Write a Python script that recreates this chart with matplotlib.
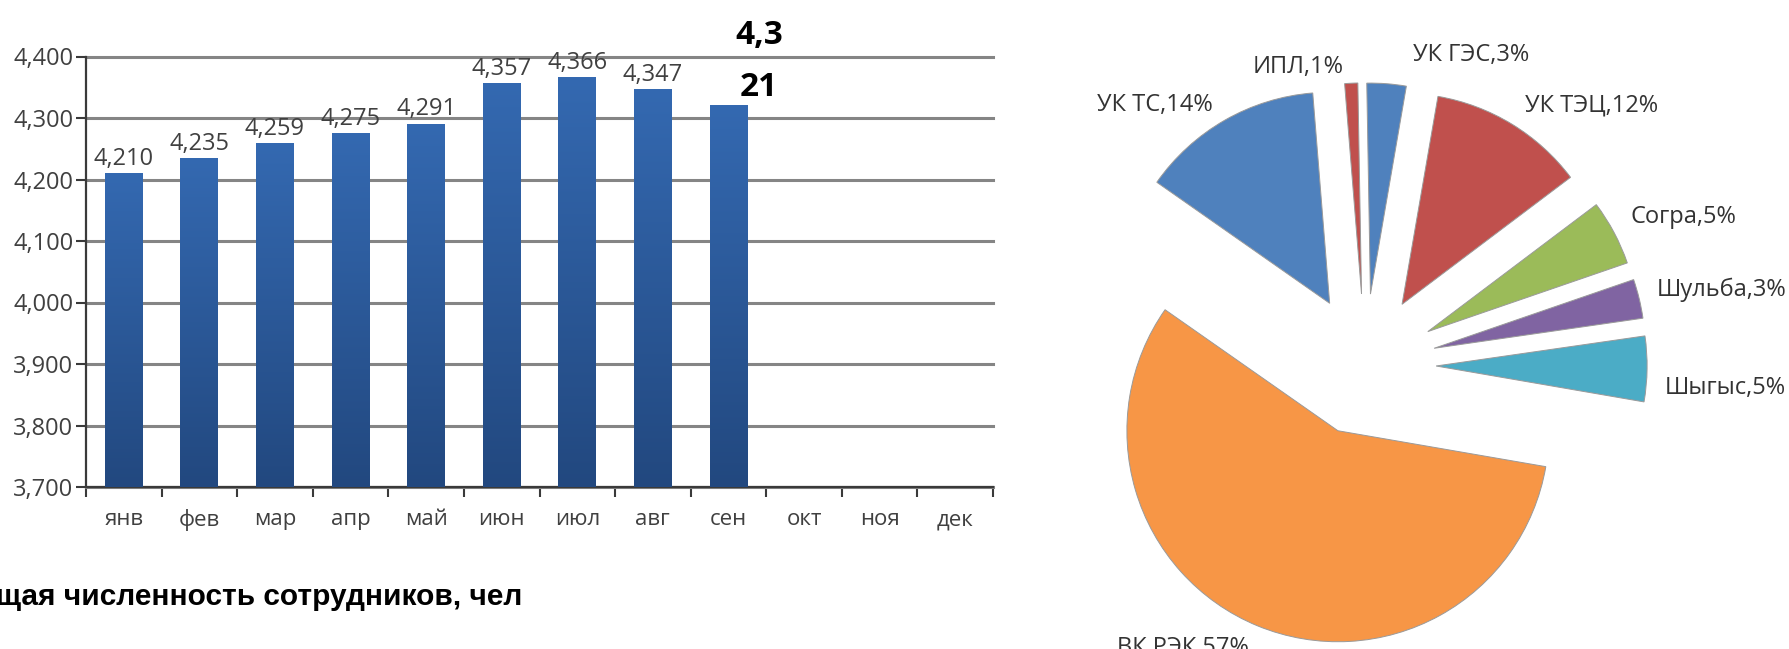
import numpy as np
import matplotlib.pyplot as plt
from matplotlib.colors import LinearSegmentedColormap
from matplotlib.ticker import FuncFormatter, MultipleLocator

# monthly headcount (people), Jan..Sep filled
months = ["янв", "фев", "мар", "апр", "май", "июн", "июл", "авг", "сен", "окт", "ноя", "дек"]
headcount = [4210, 4235, 4259, 4275, 4291, 4357, 4366, 4347, 4321]

# staff share by unit, %
units = ["ИПЛ", "УК ГЭС", "УК ТЭЦ", "Согра", "Шульба", "Шыгыс", "ВК РЭК", "УК ТС"]
shares = [1, 3, 12, 5, 3, 5, 57, 14]
unit_colors = ["#C0504D", "#4F81BD", "#C0504D", "#9BBB59", "#8064A2", "#4BACC6", "#F79646", "#4F81BD"]

W, H = 1789, 649
fig = plt.figure(figsize=(W / 100, H / 100), dpi=100)
plt.rcParams['font.family'] = ['Open Sans', 'DejaVu Sans']


def px_axes(x0, y0, x1, y1):
    # box given in pixels, y counted from the top
    return fig.add_axes([x0 / W, 1 - y1 / H, (x1 - x0) / W, (y1 - y0) / H])


def px(x, y):
    return x / W, 1 - y / H


# ---- bar chart ----
ax = px_axes(86, 56.5, 993, 487)
ymin, ymax = 3700, 4400
xs = np.arange(len(headcount))
bars = ax.bar(xs, headcount, width=0.5, color='none', edgecolor='none', zorder=3)

grad = np.linspace(0, 1, 256).reshape(-1, 1)
bar_cmap = LinearSegmentedColormap.from_list('barblue', ['#22487f', '#3469b1'])
for b in bars:
    x0, w = b.get_x(), b.get_width()
    im = ax.imshow(grad, cmap=bar_cmap, origin='lower', aspect='auto',
                   extent=[x0, x0 + w, ymin, b.get_height()], zorder=3)
    im.set_clip_path(b)

ax.set_xlim(-0.5, len(months) - 0.5)
ax.set_ylim(ymin, ymax)
ax.set_aspect('auto')

ax.yaxis.set_major_locator(MultipleLocator(100))
ax.yaxis.set_major_formatter(FuncFormatter(lambda v, p: f"{int(v):,}"))
ax.set_axisbelow(True)
ax.yaxis.grid(True, color='#858585', linewidth=2.2)
for gl in ax.get_ygridlines():
    gl.set_clip_on(False)

for s in ['top', 'right']:
    ax.spines[s].set_visible(False)
for s in ['left', 'bottom']:
    ax.spines[s].set_color('#3a3a3a')
    ax.spines[s].set_linewidth(1.6)

ax.set_xticks(np.arange(len(months)))
ax.set_xticklabels(months)
ax.set_xticks(np.arange(-0.5, len(months)), minor=True)
ax.tick_params(axis='x', which='major', length=0, pad=16, labelsize=16, labelcolor='#404040')
ax.tick_params(axis='x', which='minor', length=7, width=1.5, color='#3a3a3a', direction='out')
ax.tick_params(axis='y', length=7, width=1.5, color='#3a3a3a', direction='out',
               labelsize=17, labelcolor='#404040', pad=2)

for i, v in enumerate(headcount):
    lab = f"{v:,}"
    if i == len(headcount) - 1:
        # latest month highlighted, wrapped over two lines
        ax.annotate(lab[:3] + "\n" + lab[3:], (i, v), xytext=(22, 1), textcoords='offset points',
                    ha='center', va='bottom', fontsize=24, fontweight='bold',
                    color='black', linespacing=1.75)
    else:
        ax.annotate(lab, (i, v), xytext=(0, 6), textcoords='offset points',
                    ha='center', va='baseline', fontsize=17, color='#404040')

# caption runs off the left edge of the canvas
fig.text(*px(522, 597), "Общая численность сотрудников, чел", ha='right', va='center',
         fontsize=21.5, fontweight='bold', family='Liberation Sans', color='black')

# ---- pie chart ----
cx, cy, R = 1365, 365, 211
pax = px_axes(1060, 0, 1789, 649)
pax.pie(shares, colors=unit_colors, startangle=94.6, counterclock=False,
        explode=[0.337] * len(shares), radius=1,
        wedgeprops=dict(edgecolor='#9a9a9a', linewidth=0.7))
pax.set_aspect('auto')
pax.set_xlim((1060 - cx) / R, (1789 - cx) / R)
pax.set_ylim((cy - 649) / R, cy / R)
pax.axis('off')

label_px = [(1253, 67), (1413, 55), (1525, 106), (1630, 217),
            (1657, 290), (1665, 388), (1117, 648), (1097, 105)]
for name, share, (lx, ly) in zip(units, shares, label_px):
    fig.text(*px(lx, ly), f"{name},{share}%", ha='left', va='center',
             fontsize=17, color='#333333')

fig.savefig('out.png', dpi=100)
